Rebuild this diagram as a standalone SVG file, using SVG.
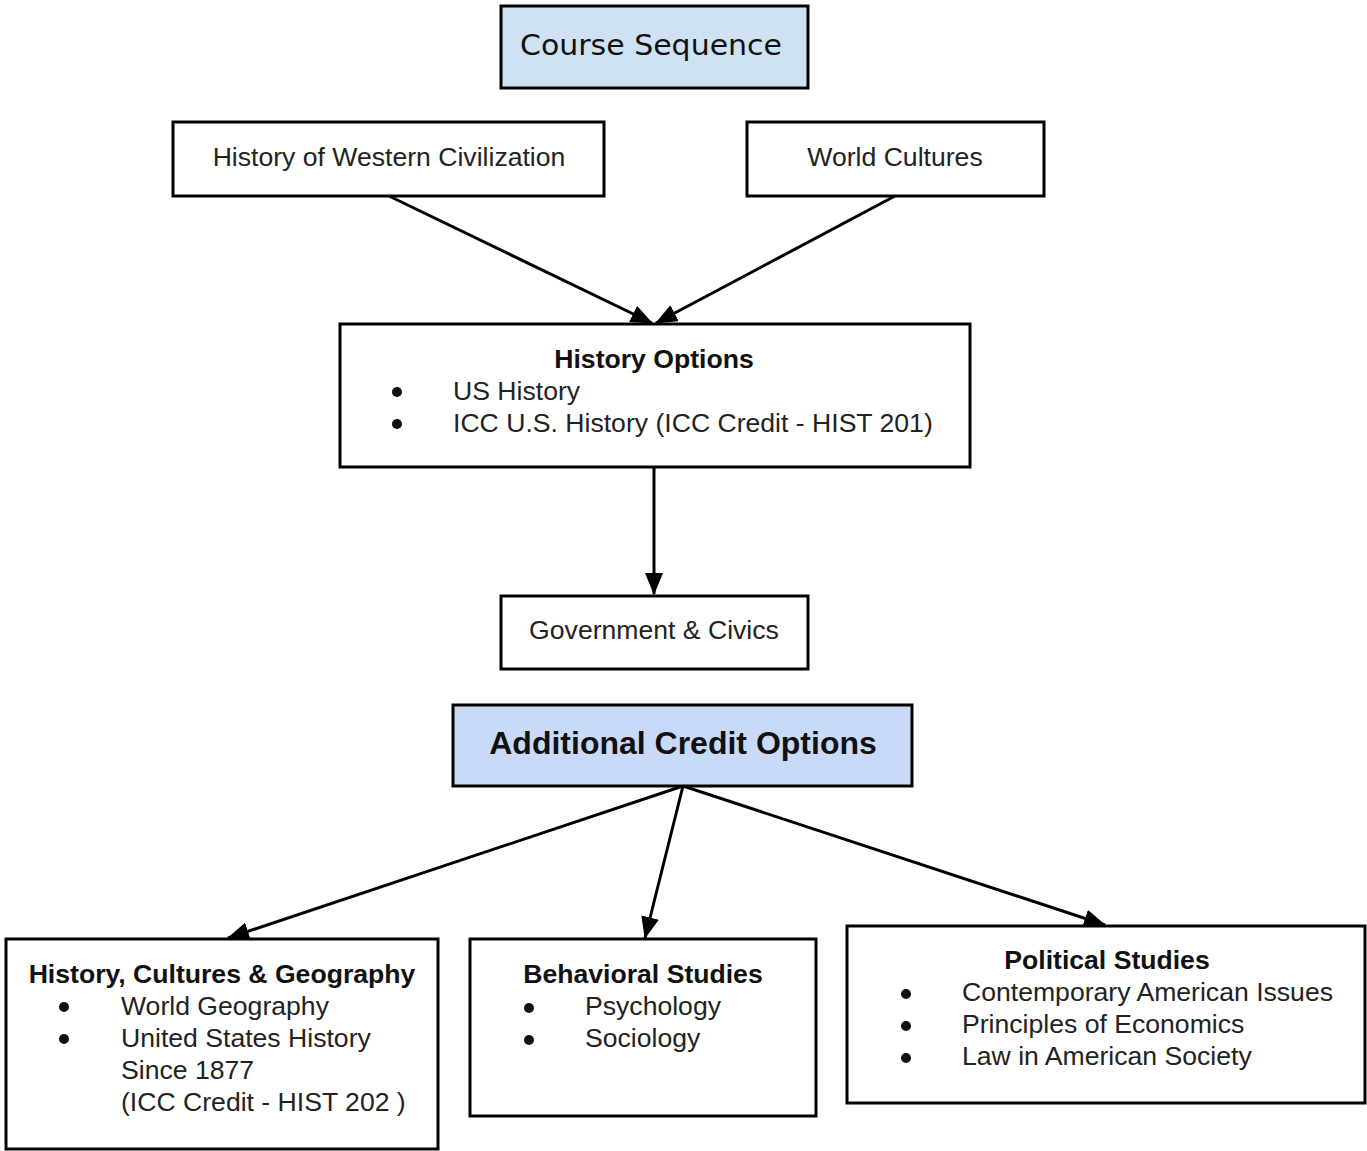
<svg xmlns="http://www.w3.org/2000/svg" width="1367" height="1151" viewBox="0 0 1367 1151">
<defs>
<marker id="arr" viewBox="0 0 22 18" refX="21" refY="9" markerWidth="22" markerHeight="18" markerUnits="userSpaceOnUse" orient="auto">
<path d="M0,0 L22,9 L0,18 Z" fill="#000"/>
</marker>
<style>
.box{fill:#fff;stroke:#000;stroke-width:3}
.t{font-family:"Liberation Sans",Arial,sans-serif;font-size:26.6px;fill:#222}
.b{font-family:"Liberation Sans",Arial,sans-serif;font-size:26.6px;font-weight:bold;fill:#111}
.c{fill:#111}
.e{stroke:#000;stroke-width:3;fill:none;marker-end:url(#arr)}
</style>
</defs>
<rect width="1367" height="1151" fill="#fff"/>
<g id="connectors">
<line class="e" x1="389" y1="196" x2="652" y2="323"/>
<line class="e" x1="895" y1="196" x2="656" y2="323"/>
<line class="e" x1="654" y1="467" x2="654" y2="594"/>
<line class="e" x1="683" y1="786" x2="228" y2="938"/>
<line class="e" x1="683" y1="786" x2="645" y2="938"/>
<line class="e" x1="683" y1="786" x2="1105" y2="925"/>
</g>
<g id="course-sequence">
<rect x="501" y="6" width="307" height="82" fill="#cfe2f3" stroke="#000" stroke-width="3"/>
<text x="651" y="55" text-anchor="middle" font-family="'Comic Sans MS','DejaVu Sans',sans-serif" font-size="28" fill="#111" textLength="262" lengthAdjust="spacingAndGlyphs">Course Sequence</text>
</g>
<g id="western-civ">
<rect class="box" x="173" y="122" width="431" height="74"/>
<text class="t" x="389" y="166" text-anchor="middle">History of Western Civilization</text>
</g>
<g id="world-cultures">
<rect class="box" x="747" y="122" width="297" height="74"/>
<text class="t" x="895" y="166" text-anchor="middle">World Cultures</text>
</g>
<g id="history-options">
<rect class="box" x="340" y="324" width="630" height="143"/>
<text class="b" x="654" y="368" text-anchor="middle">History Options</text>
<circle class="c" cx="397" cy="392" r="5"/>
<text class="t" x="453" y="400">US History</text>
<circle class="c" cx="397" cy="424" r="5"/>
<text class="t" x="453" y="432">ICC U.S. History (ICC Credit - HIST 201)</text>
</g>
<g id="gov-civics">
<rect class="box" x="501" y="596" width="307" height="73"/>
<text class="t" x="654" y="639" text-anchor="middle">Government &amp; Civics</text>
</g>
<g id="additional-credit">
<rect x="453" y="705" width="459" height="81" fill="#c9daf8" stroke="#000" stroke-width="3"/>
<text x="683" y="754" text-anchor="middle" font-family="'Liberation Sans',Arial,sans-serif" font-size="32" font-weight="bold" fill="#111">Additional Credit Options</text>
</g>
<g id="hist-cult-geo">
<rect class="box" x="6" y="939" width="432" height="210"/>
<text class="b" x="222" y="983" text-anchor="middle">History, Cultures &amp; Geography</text>
<circle class="c" cx="64" cy="1007" r="5"/>
<text class="t" x="121" y="1015">World Geography</text>
<circle class="c" cx="64" cy="1039" r="5"/>
<text class="t" x="121" y="1047">United States History</text>
<text class="t" x="121" y="1079">Since 1877</text>
<text class="t" x="121" y="1111">(ICC Credit - HIST 202 )</text>
</g>
<g id="behavioral">
<rect class="box" x="470" y="939" width="346" height="177"/>
<text class="b" x="643" y="983" text-anchor="middle">Behavioral Studies</text>
<circle class="c" cx="529" cy="1008" r="5"/>
<text class="t" x="585" y="1015">Psychology</text>
<circle class="c" cx="529" cy="1040" r="5"/>
<text class="t" x="585" y="1047">Sociology</text>
</g>
<g id="political">
<rect class="box" x="847" y="926" width="518" height="177"/>
<text class="b" x="1107" y="969" text-anchor="middle">Political Studies</text>
<circle class="c" cx="906" cy="994" r="5"/>
<text class="t" x="962" y="1001">Contemporary American Issues</text>
<circle class="c" cx="906" cy="1026" r="5"/>
<text class="t" x="962" y="1033">Principles of Economics</text>
<circle class="c" cx="906" cy="1058" r="5"/>
<text class="t" x="962" y="1065">Law in American Society</text>
</g>
</svg>
